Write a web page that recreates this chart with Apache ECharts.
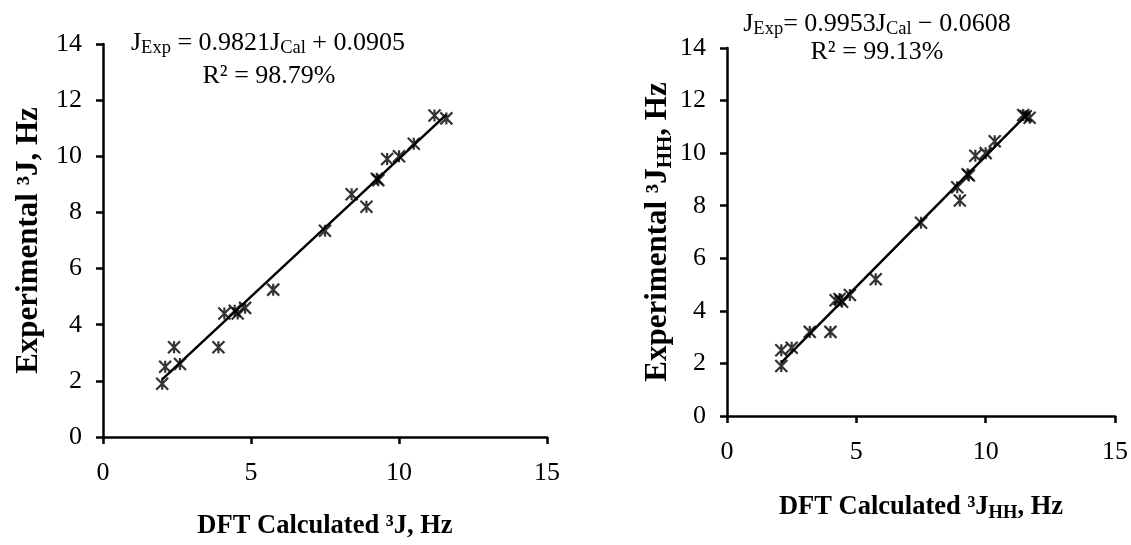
<!DOCTYPE html>
<html><head><meta charset="utf-8">
<script src="https://cdn.jsdelivr.net/npm/echarts@6/dist/echarts.min.js"></script>
<style>html,body{margin:0;padding:0;background:#fff}#c{width:1131px;height:545px}</style>
</head><body><div id="c"></div>
<script>
// Left panel: DFT calculated vs experimental 3J
const leftCalc = [2.0, 2.1, 2.4, 2.6, 3.9, 4.1, 4.45, 4.55, 4.8, 5.75, 7.5, 8.4, 8.9, 9.25, 9.3, 9.6, 10.0, 10.5, 11.2, 11.6];
const leftExp  = [1.9, 2.5, 3.2, 2.6, 3.2, 4.4, 4.5, 4.4, 4.6, 5.25, 7.35, 8.65, 8.2, 9.2, 9.15, 9.9, 10.0, 10.45, 11.45, 11.35];
const leftTrendX = [2.0, 11.6];
const leftTrendY = [2.055, 11.483];
// Right panel: DFT calculated vs experimental 3J_HH
const rightCalc = [2.1, 2.1, 2.5, 3.2, 4.0, 4.2, 4.35, 4.45, 4.75, 5.75, 7.5, 8.9, 9.0, 9.3, 9.35, 9.6, 10.0, 10.35, 11.45, 11.55, 11.7];
const rightExp  = [1.9, 2.5, 2.6, 3.2, 3.2, 4.4, 4.45, 4.35, 4.6, 5.2, 7.35, 8.7, 8.2, 9.2, 9.15, 9.9, 10.0, 10.45, 11.45, 11.4, 11.35];
const rightTrendX = [2.1, 11.7];
const rightTrendY = [2.03, 11.58];
const xTicks = [0, 5, 10, 15];
const yTicks = [0, 2, 4, 6, 8, 10, 12, 14];

const zip = (a, b) => a.map((v, i) => [v, b[i]]);
const F = 'Liberation Serif';
const star = 'path://M0,0L10,10M10,0L0,10M5,0L5,10';

function xAx(idx, rich) {
  return {
    type: 'value', gridIndex: idx, min: xTicks[0], max: xTicks[xTicks.length - 1], interval: 5,
    axisLine: { lineStyle: { color: '#000', width: 2.5 } },
    axisTick: { length: 7, lineStyle: { color: '#000', width: 2.5 } },
    splitLine: { show: false },
    axisLabel: { fontFamily: F, fontSize: 26, color: '#000', margin: 23 },
    name: rich, nameLocation: 'middle', nameGap: idx === 0 ? 76 : 75,
    nameTextStyle: { fontFamily: F, fontWeight: 'bold', fontSize: 26.5, color: '#000',
      rich: { b: { fontFamily: F, fontWeight: 'bold', fontSize: 26.5, color: '#000' },
              s: { fontFamily: F, fontWeight: 'bold', fontSize: 18.5, color: '#000', verticalAlign: 'bottom', padding: [13, 0, 0, 0] } } }
  };
}
function yAx(idx, rich) {
  return {
    type: 'value', gridIndex: idx, min: yTicks[0], max: yTicks[yTicks.length - 1], interval: 2,
    axisLine: { lineStyle: { color: '#000', width: 2.5 } },
    axisTick: { length: 7, lineStyle: { color: '#000', width: 2.5 } },
    splitLine: { show: false },
    axisLabel: { fontFamily: F, fontSize: 26, color: '#000', margin: 21 },
    name: rich, nameLocation: 'middle', nameGap: idx === 0 ? 59 : 50, nameRotate: 90,
    nameTextStyle: { fontFamily: F, fontWeight: 'bold', fontSize: 31, color: '#000',
      rich: { b: { fontFamily: F, fontWeight: 'bold', fontSize: 31, color: '#000' },
              s: { fontFamily: F, fontWeight: 'bold', fontSize: 21, color: '#000', verticalAlign: 'bottom', padding: [15, 0, 0, 0] } } }
  };
}
const eqRich = {
  n: { fontFamily: F, fontSize: 26, color: '#000' },
  s: { fontFamily: F, fontSize: 18.5, color: '#000', verticalAlign: 'bottom', padding: [11, 0, 0, 0] }
};
const scatterStyle = { color: 'none', borderColor: '#000', borderWidth: 2.2 };

const chart = echarts.init(document.getElementById('c'), null, { renderer: 'canvas' });
chart.setOption({
  animation: false,
  backgroundColor: '#fff',
  grid: [
    { left: 103, top: 44, width: 444, height: 402 },
    { left: 727, top: 48, width: 388, height: 368 }
  ],
  xAxis: [xAx(0, '{b|DFT Calculated ³J, Hz}'), xAx(1, '{b|DFT Calculated ³J}{s|HH}{b|, Hz}')],
  yAxis: [yAx(0, '{b|Experimental ³J, Hz}'), yAx(1, '{b|Experimental ³J}{s|HH}{b|, Hz}')],
  series: [
    { type: 'line', xAxisIndex: 0, yAxisIndex: 0, data: zip(leftTrendX, leftTrendY), symbol: 'none', lineStyle: { color: '#000', width: 2.5 }, silent: true },
    { type: 'scatter', xAxisIndex: 0, yAxisIndex: 0, data: zip(leftCalc, leftExp), symbol: star, symbolSize: 12, itemStyle: scatterStyle },
    { type: 'line', xAxisIndex: 1, yAxisIndex: 1, data: zip(rightTrendX, rightTrendY), symbol: 'none', lineStyle: { color: '#000', width: 2.5 }, silent: true },
    { type: 'scatter', xAxisIndex: 1, yAxisIndex: 1, data: zip(rightCalc, rightExp), symbol: star, symbolSize: 12, itemStyle: scatterStyle }
  ],
  graphic: [
    { type: 'text', x: 268, y: 43, style: { text: '{n|J}{s|Exp}{n| = 0.9821J}{s|Cal}{n| + 0.0905}', rich: eqRich, align: 'center', verticalAlign: 'middle' } },
    { type: 'text', x: 269, y: 76, style: { text: '{n|R² = 98.79%}', rich: eqRich, align: 'center', verticalAlign: 'middle' } },
    { type: 'text', x: 877, y: 24, style: { text: '{n|J}{s|Exp}{n|= 0.9953J}{s|Cal}{n| − 0.0608}', rich: eqRich, align: 'center', verticalAlign: 'middle' } },
    { type: 'text', x: 877, y: 52, style: { text: '{n|R² = 99.13%}', rich: eqRich, align: 'center', verticalAlign: 'middle' } }
  ]
});
</script></body></html>
